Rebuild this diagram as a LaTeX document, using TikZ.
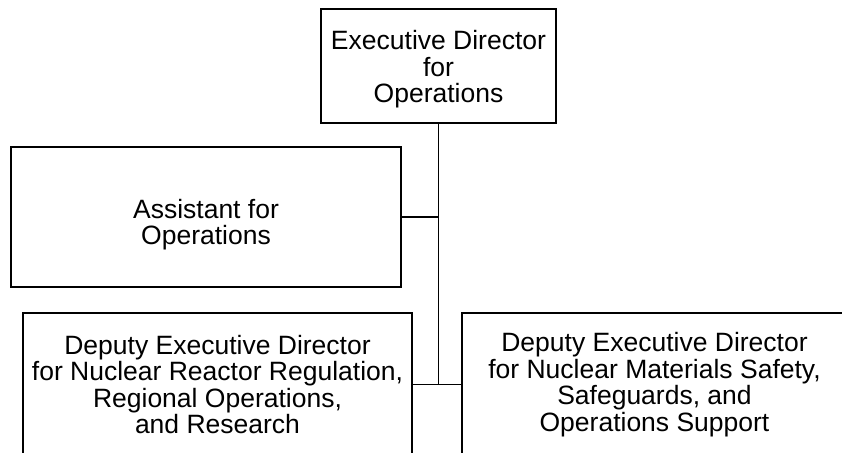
\documentclass[tikz,border=0pt]{standalone}
\usepackage{fontspec}
\setmainfont{Liberation Sans}
\usetikzlibrary{positioning}

\begin{document}
\begin{tikzpicture}[x=1pt,y=-1pt]
	\pgfmathsetmacro{\TextSize}{26.5}
	\pgfmathsetmacro{\LineSkip}{26.5}
	\tikzset{office/.style={draw, line width=1.2pt, align=center, inner sep=0pt,
		font=\fontsize{\TextSize}{\LineSkip}\selectfont}}
	\useasboundingbox (0,0) rectangle (842,452);
	\clip (0,0) rectangle (842,452);
	
	\node[office, minimum width=235pt, minimum height=114pt, text height=79pt] (Director) at (438.5,66) {Executive Director\\for\\Operations};
	\node[office, minimum width=390pt, minimum height=140pt, text height=61pt] (Assistant) at (206,217) {Assistant for\\Operations};
	\node[office, minimum width=389pt, minimum height=143pt] (ReactorDeputy) at (217.5,384.5) {Deputy Executive Director\\for Nuclear Reactor Regulation,\\Regional Operations,\\and Research};
	\node[office, minimum width=385pt, minimum height=143pt] (MaterialsDeputy) at (654.5,384.5) {Deputy Executive Director\\for Nuclear Materials Safety,\\Safeguards, and\\Operations Support};
	
	\draw[line width=1.2pt] (Director.south) -- (Director.south |- ReactorDeputy.east);
	\draw[line width=1.2pt] (Assistant.east) -- (Assistant.east -| Director.south);
	\draw[line width=1.2pt] (ReactorDeputy.east) -- (MaterialsDeputy.west);
\end{tikzpicture}
\end{document}
